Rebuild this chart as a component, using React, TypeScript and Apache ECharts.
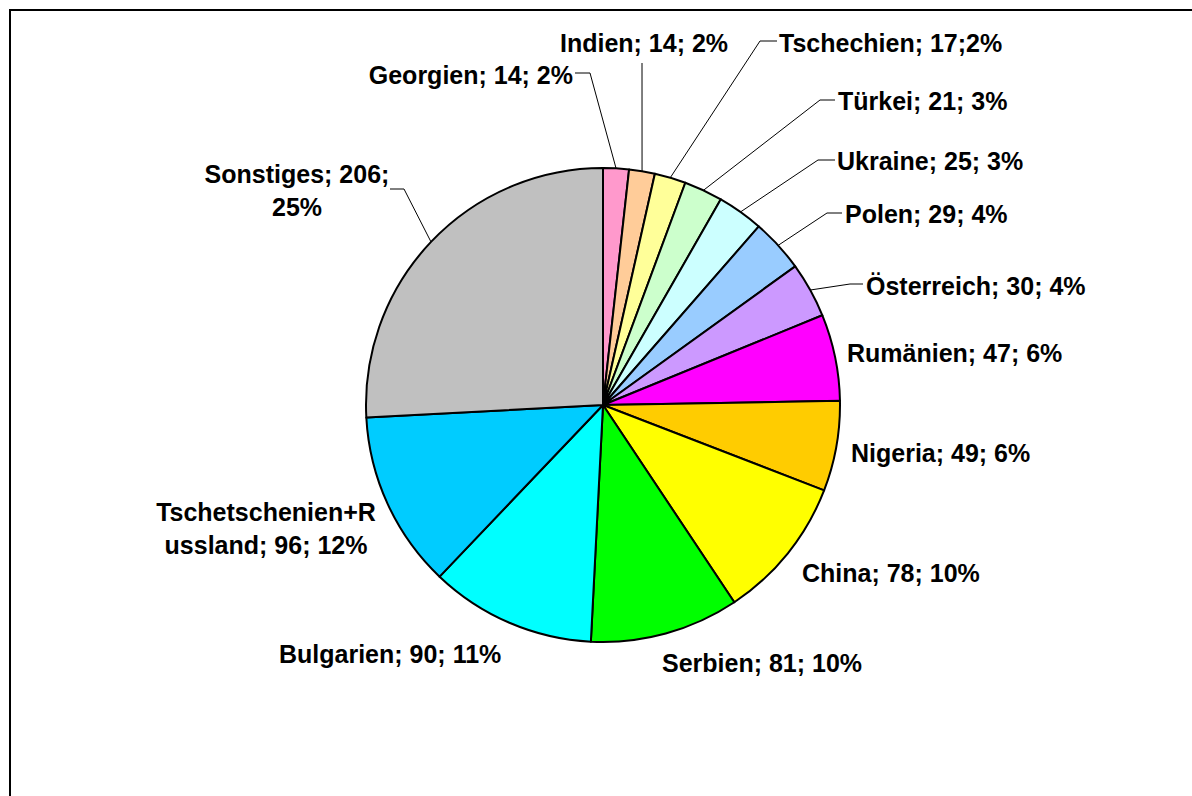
import React, { useEffect, useRef } from "react";
import * as echarts from "echarts";

// ---- data ----
const categories = [
  "Georgien",
  "Indien",
  "Tschechien",
  "Türkei",
  "Ukraine",
  "Polen",
  "Österreich",
  "Rumänien",
  "Nigeria",
  "China",
  "Serbien",
  "Bulgarien",
  "Tschetschenien+Russland",
  "Sonstiges",
];
const values = [14, 14, 17, 21, 25, 29, 30, 47, 49, 78, 81, 90, 96, 206];
const labelTexts = [
  "Georgien; 14; 2%",
  "Indien; 14; 2%",
  "Tschechien; 17;2%",
  "Türkei; 21; 3%",
  "Ukraine; 25; 3%",
  "Polen; 29; 4%",
  "Österreich; 30; 4%",
  "Rumänien; 47; 6%",
  "Nigeria; 49; 6%",
  "China; 78; 10%",
  "Serbien; 81; 10%",
  "Bulgarien; 90; 11%",
  "Tschetschenien+R\nussland; 96; 12%",
  "Sonstiges; 206;\n25%",
];
const colors = [
  "#FF99CC",
  "#FFCC99",
  "#FFFF99",
  "#CCFFCC",
  "#CCFFFF",
  "#99CCFF",
  "#CC99FF",
  "#FF00FF",
  "#FFCC00",
  "#FFFF00",
  "#00FF00",
  "#00FFFF",
  "#00CCFF",
  "#C0C0C0",
];

// ---- layout (label placement, not data) ----
const CX = 603;
const CY = 405;
const R = 237;
type LabelPos = {
  x: number;
  y: number;
  align: "left" | "right" | "center";
  elbow?: [number, number];
  end?: [number, number];
};
const labelPositions: LabelPos[] = [
  { x: 573, y: 75, align: "right", elbow: [590, 73], end: [575, 73] },
  { x: 644, y: 43, align: "center", elbow: [642, 63], end: [642, 63] },
  { x: 779, y: 43, align: "left", elbow: [760, 41], end: [777, 41] },
  { x: 838, y: 101, align: "left", elbow: [820, 100], end: [835, 100] },
  { x: 837, y: 161, align: "left", elbow: [818, 160], end: [835, 160] },
  { x: 845, y: 214, align: "left", elbow: [827, 213], end: [842, 213] },
  { x: 866, y: 286, align: "left", elbow: [850, 284], end: [863, 284] },
  { x: 847, y: 353, align: "left" },
  { x: 851, y: 453, align: "left" },
  { x: 802, y: 573, align: "left" },
  { x: 662, y: 663, align: "left" },
  { x: 279, y: 654, align: "left" },
  { x: 266, y: 528, align: "center" },
  { x: 297, y: 190, align: "center", elbow: [404, 189], end: [390, 189] },
];

function edgePoint(index: number): [number, number] {
  const total = values.reduce((a, b) => a + b, 0);
  let acc = 0;
  for (let i = 0; i < index; i++) acc += values[i];
  const mid = ((acc + values[index] / 2) / total) * Math.PI * 2;
  return [CX + R * Math.sin(mid), CY - R * Math.cos(mid)];
}

export default function App() {
  const ref = useRef<HTMLDivElement>(null);
  useEffect(() => {
    if (!ref.current) return;
    const chart = echarts.init(ref.current, undefined, { renderer: "svg" });
    const data = categories.map((name, i) => ({
      name,
      value: values[i],
      itemStyle: { color: colors[i] },
      labelLine: { show: !!labelPositions[i].elbow },
    }));
    chart.setOption({
      animation: false,
      backgroundColor: "#FFFFFF",
      graphic: [
        {
          type: "rect",
          shape: { x: 10, y: 10, width: 1300, height: 900 },
          style: { fill: "none", stroke: "#000000", lineWidth: 2 },
          silent: true,
          z: 0,
        },
      ],
      series: [
        {
          type: "pie",
          center: [CX, CY],
          radius: R,
          startAngle: 90,
          clockwise: true,
          avoidLabelOverlap: false,
          itemStyle: { borderColor: "#000000", borderWidth: 2 },
          emphasis: { disabled: true },
          label: {
            show: true,
            position: "outside",
            formatter: (p: any) => labelTexts[p.dataIndex],
            fontFamily: "'Liberation Sans', Arial, sans-serif",
            fontWeight: "bold",
            fontSize: 25,
            lineHeight: 33,
            color: "#000000",
          },
          labelLine: {
            lineStyle: { color: "#000000", width: 1 },
          },
          labelLayout: (params: any) => {
            const i = params.dataIndex;
            const lp = labelPositions[i];
            const out: any = {
              x: lp.x,
              y: lp.y,
              align: lp.align,
              verticalAlign: "middle",
            };
            if (lp.elbow && lp.end) {
              out.labelLinePoints = [edgePoint(i), lp.elbow, lp.end];
            }
            return out;
          },
          data,
        },
      ],
    });
    return () => chart.dispose();
  }, []);
  return (
    <div
      ref={ref}
      style={{ position: "absolute", left: 0, top: 0, width: 1192, height: 796 }}
    />
  );
}
